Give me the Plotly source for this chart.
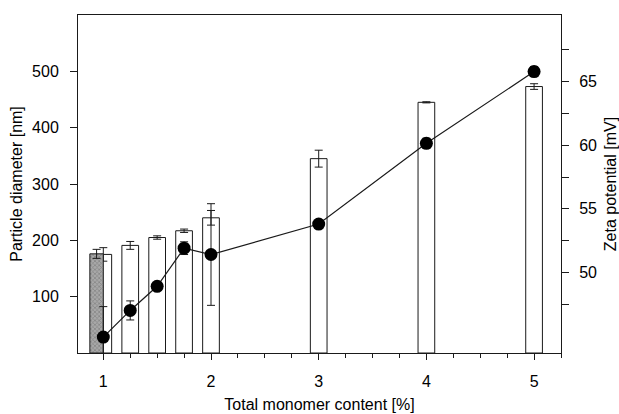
import plotly.graph_objects as go

# ---- data ----
monomer = [1, 1.25, 1.5, 1.75, 2, 3, 4, 5]
diameter = [175, 191, 205, 217, 240, 345, 445, 473]
diameter_err = [12, 7, 3, 3, 13, 15, 1, 5]
ref_x = [1]
ref_diameter = [176]
ref_diameter_err = [8]
zeta = [44.9, 47.0, 48.9, 51.9, 51.4, 53.8, 60.15, 65.8]
zeta_err = [2.4, 0.75, 0.3, 0.5, 4.0, 0.3, 0.4, 0.4]

x_ticks = [1, 2, 3, 4, 5]
y_ticks = [100, 200, 300, 400, 500]
y2_ticks = [50, 55, 60, 65]
y2_minor = [47.5, 52.5, 57.5, 62.5, 67.5]

FONT = "Liberation Sans, Arial, sans-serif"
INK = "#1a1a1a"

fig = go.Figure()

fig.add_trace(go.Bar(
    x=monomer, y=diameter, width=0.155,
    marker=dict(color="white", line=dict(color=INK, width=1)),
    error_y=dict(type="data", array=diameter_err, color=INK, thickness=1, width=4),
    showlegend=False,
))
fig.add_trace(go.Bar(
    x=ref_x, y=ref_diameter, width=0.125, offset=-0.125,
    marker=dict(color="#999999", line=dict(color=INK, width=1),
                pattern=dict(shape="x", size=3, solidity=0.4, fgcolor="#5a5a5a", bgcolor="#a8a8a8")),
    error_y=dict(type="data", array=ref_diameter_err, color=INK, thickness=1, width=4),
    showlegend=False,
))
fig.add_trace(go.Scatter(
    x=monomer, y=zeta, yaxis="y2", mode="lines+markers",
    line=dict(color=INK, width=1.2),
    marker=dict(color="black", size=13),
    error_y=dict(type="data", array=zeta_err, color=INK, thickness=1, width=4),
    showlegend=False,
))

fig.update_layout(
    width=619, height=414,
    margin=dict(l=78, r=58, t=15, b=61),
    paper_bgcolor="white", plot_bgcolor="white",
    barmode="overlay",
    font=dict(family=FONT, size=16, color="black"),
    xaxis=dict(
        range=[0.765, 5.25], tickvals=x_ticks, ticks="outside", ticklen=6,
        tickcolor=INK, showline=True, linecolor=INK, linewidth=1, mirror=True,
        showgrid=False, zeroline=False, ticklabelstandoff=8, automargin=False,
        minor=dict(dtick=0.25, tick0=0, ticks="outside", ticklen=4, tickcolor=INK, showgrid=False),
        title=dict(text="Total monomer content [%]", font=dict(size=16), standoff=9),
    ),
    yaxis=dict(
        range=[0, 600], tickvals=y_ticks, ticks="outside", ticklen=7,
        tickcolor=INK, showline=True, linecolor=INK, linewidth=1,
        showgrid=False, zeroline=False, ticklabelstandoff=8, automargin=False,
        title=dict(text="Particle diameter [nm]", font=dict(size=16), standoff=5),
    ),
    yaxis2=dict(
        overlaying="y", side="right",
        range=[43.65, 70.25], tickvals=y2_ticks, ticks="outside", ticklen=7,
        tickcolor=INK, showline=True, linecolor=INK, linewidth=1,
        showgrid=False, zeroline=False, ticklabelstandoff=7, automargin=False,
        minor=dict(tickvals=y2_minor, ticks="outside", ticklen=7, tickcolor=INK, showgrid=False),
        title=dict(text="Zeta potential [mV]", font=dict(size=16), standoff=14),
    ),
)

fig.write_html("out.html")
